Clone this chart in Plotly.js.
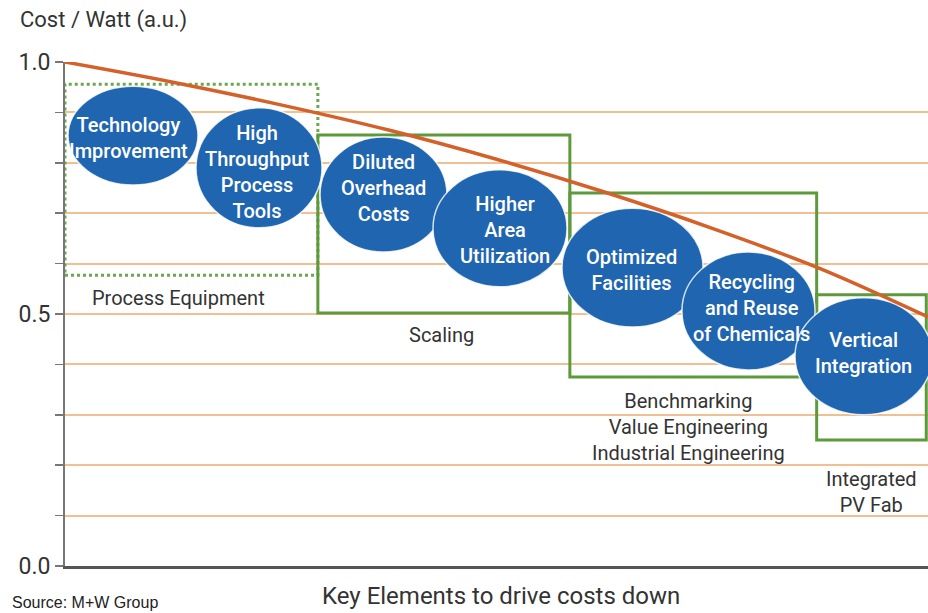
<!DOCTYPE html>
<html>
<head>
<meta charset="utf-8">
<script src="https://cdn.plot.ly/plotly-3.0.1.min.js"></script>
<style>html,body{margin:0;padding:0;background:#fff;}#chart{width:928px;height:613px;}</style>
</head>
<body>
<div id="chart"></div>
<script>
// ---- data ----
const costX = [0, 12.5, 25, 37.5, 50, 62.5, 75, 87.5, 100];
const costY = [1.0, 0.96, 0.915, 0.865, 0.807, 0.742, 0.670, 0.590, 0.494];

const stageNames = ['Technology<br>Improvement', 'High<br>Throughput<br>Process<br>Tools', 'Diluted<br>Overhead<br>Costs',
  'Higher<br>Area<br>Utilization', 'Optimized<br>Facilities', 'Recycling<br>and Reuse<br>of Chemicals', 'Vertical<br>Integration'];
const stageX0 = [0.35, 15.18, 29.55, 42.64, 57.59, 71.49, 84.59];
const stageX1 = [15.41, 29.78, 44.26, 58.17, 73.93, 86.91, 100.5];
const stageY0 = [0.756, 0.671, 0.623, 0.554, 0.474, 0.389, 0.300];
const stageY1 = [0.952, 0.909, 0.851, 0.786, 0.710, 0.623, 0.532];
const stageLabelX = [7.3, 22.25, 36.85, 51.0, 65.7, 79.6, 92.5];
const stageLabelY = [0.849, 0.782, 0.75, 0.667, 0.587, 0.512, 0.423];

const groupNames = ['Process Equipment', 'Scaling', 'Benchmarking<br>Value Engineering<br>Industrial Engineering', 'Integrated<br>PV Fab'];
const groupX0 = [0, 29.3, 58.5, 87.1];
const groupX1 = [29.3, 58.5, 87.1, 99.8];
const groupY0 = [0.577, 0.502, 0.375, 0.25];
const groupY1 = [0.956, 0.855, 0.740, 0.538];
const groupLabelX = [13.1, 43.6, 72.2, 93.5];
const groupLabelY = [0.532, 0.458, 0.276, 0.147];

const yTickVals = [0, 0.1, 0.2, 0.3, 0.4, 0.5, 0.6, 0.7, 0.8, 0.9, 1.0];
const yTickText = ['0.0', '', '', '', '', '0.5', '', '', '', '', '1.0'];

// ---- styling ----
const narrow = "Roboto, 'Liberation Sans', sans-serif";
const shapes = [];
const annotations = [];

groupNames.forEach((g, i) => {
  shapes.push({type: 'rect', xref: 'x', yref: 'y', layer: 'between',
    x0: groupX0[i], x1: groupX1[i], y0: groupY0[i], y1: groupY1[i],
    line: {color: i === 0 ? '#6aa84f' : '#5c9a3c', width: 3, dash: i === 0 ? 'dot' : 'solid'},
    fillcolor: 'rgba(0,0,0,0)'});
  annotations.push({x: groupLabelX[i], y: groupLabelY[i], xref: 'x', yref: 'y', text: g, showarrow: false,
    font: {family: narrow, size: 20, color: '#333'}, align: 'center'});
});

stageNames.forEach((s, i) => {
  shapes.push({type: 'circle', xref: 'x', yref: 'y', layer: 'between',
    x0: stageX0[i], x1: stageX1[i], y0: stageY0[i], y1: stageY1[i],
    line: {color: 'rgba(255,255,255,0.8)', width: 1.5}, fillcolor: '#1f65b0'});
  annotations.push({x: stageLabelX[i], y: stageLabelY[i], xref: 'x', yref: 'y', text: s, showarrow: false,
    font: {family: narrow, size: 20, weight: 500, color: '#fff'}, align: 'center'});
});

annotations.push({x: -0.0545, y: 1.083, xref: 'paper', yref: 'paper', xanchor: 'left', yanchor: 'middle',
  text: 'Cost / Watt (a.u.)', showarrow: false, font: {family: narrow, size: 22, color: '#333'}});
annotations.push({x: 0.505, y: -0.0595, xref: 'paper', yref: 'paper', xanchor: 'center', yanchor: 'middle',
  text: 'Key Elements to drive costs down', showarrow: false, font: {family: narrow, size: 24, color: '#333'}});
annotations.push({x: -0.0637, y: -0.0933, xref: 'paper', yref: 'paper', xanchor: 'left', yanchor: 'bottom',
  text: 'Source: M+W Group', showarrow: false, font: {family: 'Liberation Sans, Arial, sans-serif', size: 16, color: '#222'}});

const traces = [{
  x: costX, y: costY, type: 'scatter', mode: 'lines',
  line: {color: '#d4602a', width: 3.5, shape: 'spline'}, hoverinfo: 'skip', showlegend: false
}];

const layout = {
  width: 928, height: 613,
  margin: {l: 65, r: 0, t: 62, b: 47},
  paper_bgcolor: '#fff', plot_bgcolor: '#fff',
  showlegend: false,
  xaxis: {range: [0, 100], showgrid: false, zeroline: false, showticklabels: false, ticks: '',
    showline: true, linecolor: '#555', linewidth: 3, fixedrange: true},
  yaxis: {range: [0, 1], tickvals: yTickVals, ticktext: yTickText, ticks: 'outside', ticklen: 8,
    tickcolor: '#777', tickwidth: 1.5, showline: true, linecolor: '#777', linewidth: 2,
    showgrid: true, gridcolor: '#f2c090', gridwidth: 2, zeroline: false,
    tickfont: {family: narrow, size: 23, color: '#333'}, fixedrange: true},
  shapes: shapes,
  annotations: annotations
};

Plotly.newPlot('chart', traces, layout, {displayModeBar: false, staticPlot: true});
</script>
</body>
</html>
